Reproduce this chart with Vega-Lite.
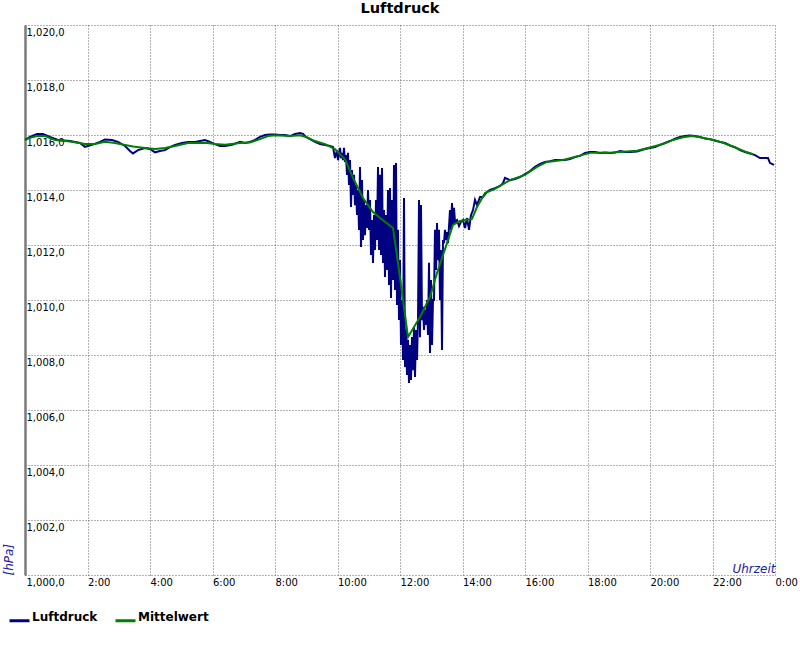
{
  "$schema": "https://vega.github.io/schema/vega-lite/v6.json",
  "autosize": "none",
  "width": 750,
  "height": 550,
  "padding": {"left": 25, "top": 25, "right": 25, "bottom": 75},
  "background": "white",
  "title": {"text": "Luftdruck", "font": "DejaVu Sans", "fontSize": 14.5, "fontWeight": "bold", "color": "black", "anchor": "middle", "baseline": "alphabetic", "offset": -2.5},
  "config": {
    "view": {"stroke": null},
    "legend": {"orient": "none", "legendX": -17, "legendY": 584, "direction": "horizontal", "padding": 0, "symbolType": "stroke", "symbolSize": 400, "symbolStrokeWidth": 3, "labelFont": "DejaVu Sans", "labelFontSize": 12, "labelFontWeight": "bold", "labelColor": "black", "labelOffset": 1, "labelBaseline": "alphabetic", "columnPadding": 11}
  },
  "datasets": {
    "luft": [
      {"t":0,"p":1015.82},{"t":0.16,"p":1015.93},{"t":0.384,"p":1016.04},{"t":0.576,"p":1016.04},{"t":0.8,"p":1015.93},{"t":1.056,"p":1015.82},{"t":1.44,"p":1015.78},{"t":1.76,"p":1015.71},{"t":1.92,"p":1015.57},{"t":2.144,"p":1015.64},{"t":2.4,"p":1015.75},{"t":2.56,"p":1015.84},{"t":2.784,"p":1015.82},{"t":2.976,"p":1015.75},{"t":3.2,"p":1015.60},{"t":3.36,"p":1015.42},{"t":3.456,"p":1015.33},{"t":3.616,"p":1015.45},{"t":3.84,"p":1015.53},{"t":4.0,"p":1015.49},{"t":4.16,"p":1015.37},{"t":4.32,"p":1015.42},{"t":4.48,"p":1015.45},{"t":4.64,"p":1015.56},{"t":4.8,"p":1015.64},{"t":5.024,"p":1015.71},{"t":5.216,"p":1015.75},{"t":5.44,"p":1015.75},{"t":5.76,"p":1015.82},{"t":5.92,"p":1015.75},{"t":6.08,"p":1015.67},{"t":6.24,"p":1015.60},{"t":6.4,"p":1015.60},{"t":6.624,"p":1015.64},{"t":6.88,"p":1015.75},{"t":7.04,"p":1015.71},{"t":7.2,"p":1015.75},{"t":7.36,"p":1015.82},{"t":7.52,"p":1015.93},{"t":7.68,"p":1016.00},{"t":7.84,"p":1016.02},{"t":8.0,"p":1016.02},{"t":8.16,"p":1016.00},{"t":8.32,"p":1016.00},{"t":8.48,"p":1015.96},{"t":8.64,"p":1016.04},{"t":8.8,"p":1016.07},{"t":8.896,"p":1016.04},{"t":8.992,"p":1015.93},{"t":9.12,"p":1015.85},{"t":9.28,"p":1015.75},{"t":9.44,"p":1015.67},{"t":9.6,"p":1015.64},{"t":9.76,"p":1015.60},
      {"t":9.856,"p":1015.56},{"t":9.92,"p":1015.16},{"t":9.984,"p":1015.45},{"t":10.016,"p":1015.09},{"t":10.08,"p":1015.53},{"t":10.112,"p":1015.16},{"t":10.144,"p":1015.35},{"t":10.176,"p":1015.09},{"t":10.208,"p":1015.53},{"t":10.24,"p":1015.02},{"t":10.272,"p":1015.27},{"t":10.304,"p":1014.55},{"t":10.336,"p":1015.35},{"t":10.368,"p":1014.18},{"t":10.4,"p":1015.09},{"t":10.432,"p":1013.38},{"t":10.464,"p":1014.73},{"t":10.496,"p":1013.82},{"t":10.528,"p":1014.55},{"t":10.56,"p":1013.45},{"t":10.592,"p":1014.18},{"t":10.624,"p":1013.09},{"t":10.656,"p":1014.00},{"t":10.688,"p":1012.55},{"t":10.72,"p":1014.84},{"t":10.752,"p":1011.93},{"t":10.784,"p":1014.36},{"t":10.816,"p":1012.18},{"t":10.848,"p":1013.64},{"t":10.88,"p":1012.36},{"t":10.912,"p":1013.45},{"t":10.944,"p":1012.62},{"t":10.976,"p":1014.00},{"t":11.008,"p":1012.55},{"t":11.04,"p":1013.64},{"t":11.072,"p":1011.64},{"t":11.104,"p":1012.91},{"t":11.136,"p":1011.35},{"t":11.168,"p":1013.09},{"t":11.2,"p":1011.82},{"t":11.232,"p":1013.64},{"t":11.264,"p":1012.18},{"t":11.296,"p":1014.84},{"t":11.328,"p":1011.82},{"t":11.36,"p":1014.55},{"t":11.392,"p":1011.64},{"t":11.424,"p":1014.80},{"t":11.456,"p":1011.35},{"t":11.488,"p":1013.27},{"t":11.52,"p":1010.84},{"t":11.552,"p":1013.09},{"t":11.584,"p":1011.09},{"t":11.616,"p":1014.00},{"t":11.648,"p":1010.55},{"t":11.68,"p":1014.07},{"t":11.712,"p":1010.07},{"t":11.744,"p":1013.64},{"t":11.776,"p":1010.73},{"t":11.808,"p":1014.91},{"t":11.84,"p":1010.36},{"t":11.872,"p":1014.98},{"t":11.904,"p":1009.82},{"t":11.936,"p":1012.55},{"t":11.968,"p":1009.27},{"t":12.0,"p":1011.45},{"t":12.032,"p":1008.36},{"t":12.064,"p":1010.00},{"t":12.096,"p":1007.82},{"t":12.128,"p":1013.71},{"t":12.16,"p":1007.56},{"t":12.192,"p":1008.91},{"t":12.224,"p":1007.27},{"t":12.256,"p":1008.55},{"t":12.288,"p":1006.98},{"t":12.32,"p":1008.36},{"t":12.352,"p":1007.09},{"t":12.384,"p":1008.65},{"t":12.416,"p":1007.45},{"t":12.448,"p":1009.02},{"t":12.48,"p":1007.20},{"t":12.512,"p":1008.91},{"t":12.544,"p":1007.82},{"t":12.576,"p":1009.27},{"t":12.608,"p":1013.64},{"t":12.64,"p":1008.65},{"t":12.672,"p":1013.45},{"t":12.704,"p":1009.27},{"t":12.736,"p":1009.75},{"t":12.768,"p":1008.91},{"t":12.8,"p":1009.64},{"t":12.832,"p":1009.09},{"t":12.864,"p":1010.00},{"t":12.896,"p":1008.73},{"t":12.928,"p":1011.35},{"t":12.96,"p":1008.07},{"t":12.992,"p":1010.73},{"t":13.024,"p":1008.36},{"t":13.056,"p":1010.00},{"t":13.088,"p":1010.00},{"t":13.12,"p":1012.55},{"t":13.152,"p":1011.09},{"t":13.184,"p":1012.80},{"t":13.216,"p":1011.45},{"t":13.248,"p":1012.55},{"t":13.28,"p":1010.00},{"t":13.312,"p":1011.82},{"t":13.344,"p":1008.18},{"t":13.376,"p":1012.18},{"t":13.408,"p":1012.07},{"t":13.44,"p":1012.55},{"t":13.472,"p":1012.18},{"t":13.504,"p":1012.47},{"t":13.536,"p":1012.07},{"t":13.6,"p":1013.27},{"t":13.632,"p":1012.55},{"t":13.664,"p":1013.53},{"t":13.696,"p":1012.73},{"t":13.728,"p":1013.35},{"t":13.76,"p":1012.84},{"t":13.824,"p":1012.91},{"t":13.888,"p":1012.69},{"t":13.952,"p":1012.84},{"t":14.016,"p":1012.91},{"t":14.08,"p":1012.62},{"t":14.144,"p":1012.98},{"t":14.208,"p":1012.55},{"t":14.272,"p":1013.09},{"t":14.336,"p":1013.27},{"t":14.4,"p":1013.64},{"t":14.464,"p":1013.45},{"t":14.56,"p":1013.75},{"t":14.656,"p":1013.75},{"t":14.784,"p":1013.93},{"t":14.88,"p":1014.00},{"t":15.04,"p":1014.07},{"t":15.2,"p":1014.15},{"t":15.296,"p":1014.25},{"t":15.36,"p":1014.44},{"t":15.52,"p":1014.36},{"t":15.68,"p":1014.40},{"t":15.84,"p":1014.47},{"t":16.0,"p":1014.58},{"t":16.16,"p":1014.69},{"t":16.32,"p":1014.84},{"t":16.48,"p":1014.95},{"t":16.64,"p":1015.02},{"t":16.8,"p":1015.05},{"t":16.96,"p":1015.09},{"t":17.12,"p":1015.09},{"t":17.28,"p":1015.09},{"t":17.44,"p":1015.13},{"t":17.6,"p":1015.20},{"t":17.76,"p":1015.24},{"t":17.92,"p":1015.35},{"t":18.08,"p":1015.38},{"t":18.24,"p":1015.38},{"t":18.4,"p":1015.35},{"t":18.56,"p":1015.36},{"t":18.72,"p":1015.35},{"t":18.88,"p":1015.36},{"t":19.04,"p":1015.42},{"t":19.2,"p":1015.38},{"t":19.36,"p":1015.38},{"t":19.584,"p":1015.40},{"t":19.84,"p":1015.49},{"t":20.0,"p":1015.53},{"t":20.16,"p":1015.56},{"t":20.32,"p":1015.64},{"t":20.48,"p":1015.71},{"t":20.64,"p":1015.78},{"t":20.8,"p":1015.87},{"t":20.96,"p":1015.93},{"t":21.12,"p":1015.96},{"t":21.28,"p":1015.98},{"t":21.44,"p":1015.96},{"t":21.6,"p":1015.93},{"t":21.76,"p":1015.87},{"t":21.92,"p":1015.85},{"t":22.08,"p":1015.80},{"t":22.24,"p":1015.75},{"t":22.4,"p":1015.71},{"t":22.56,"p":1015.62},{"t":22.72,"p":1015.56},{"t":22.88,"p":1015.45},{"t":23.04,"p":1015.38},{"t":23.2,"p":1015.33},{"t":23.36,"p":1015.27},{"t":23.52,"p":1015.16},{"t":23.68,"p":1015.16},{"t":23.776,"p":1015.16},{"t":23.84,"p":1014.98},{"t":23.904,"p":1014.95},{"t":23.968,"p":1014.91}
    ],
    "mittel": [
      {"t":0,"p":1015.85},{"t":0.384,"p":1015.96},{"t":0.64,"p":1015.96},{"t":0.96,"p":1015.82},{"t":1.44,"p":1015.76},{"t":1.92,"p":1015.67},{"t":2.24,"p":1015.67},{"t":2.56,"p":1015.75},{"t":2.88,"p":1015.71},{"t":3.2,"p":1015.64},{"t":3.456,"p":1015.58},{"t":3.84,"p":1015.53},{"t":4.16,"p":1015.49},{"t":4.48,"p":1015.53},{"t":4.8,"p":1015.60},{"t":5.216,"p":1015.71},{"t":5.76,"p":1015.72},{"t":6.08,"p":1015.67},{"t":6.4,"p":1015.65},{"t":6.88,"p":1015.71},{"t":7.2,"p":1015.73},{"t":7.52,"p":1015.85},{"t":7.776,"p":1015.96},{"t":8.0,"p":1015.99},{"t":8.48,"p":1015.96},{"t":8.8,"p":1015.99},{"t":8.992,"p":1015.93},{"t":9.28,"p":1015.78},{"t":9.6,"p":1015.67},{"t":9.92,"p":1015.49},{"t":10.24,"p":1015.12},{"t":10.496,"p":1014.44},{"t":10.816,"p":1013.71},{"t":11.136,"p":1013.20},{"t":11.36,"p":1012.98},{"t":11.776,"p":1012.62},{"t":11.936,"p":1011.35},{"t":12.096,"p":1010.00},{"t":12.256,"p":1008.65},{"t":12.64,"p":1009.38},{"t":12.96,"p":1010.11},{"t":13.184,"p":1010.98},{"t":13.504,"p":1012.07},{"t":13.696,"p":1012.73},{"t":13.92,"p":1012.87},{"t":14.304,"p":1012.95},{"t":14.464,"p":1013.38},{"t":14.72,"p":1013.89},{"t":15.04,"p":1014.04},{"t":15.52,"p":1014.36},{"t":16.0,"p":1014.55},{"t":16.384,"p":1014.84},{"t":16.704,"p":1015.02},{"t":17.216,"p":1015.09},{"t":17.76,"p":1015.25},{"t":18.08,"p":1015.35},{"t":18.816,"p":1015.36},{"t":19.584,"p":1015.43},{"t":19.904,"p":1015.52},{"t":20.416,"p":1015.67},{"t":20.736,"p":1015.82},{"t":21.056,"p":1015.92},{"t":21.344,"p":1015.96},{"t":21.6,"p":1015.92},{"t":22.016,"p":1015.82},{"t":22.336,"p":1015.72},{"t":22.784,"p":1015.52},{"t":23.104,"p":1015.37},{"t":23.296,"p":1015.30}
    ]
  },
  "encoding": {
    "x": {
      "field": "t", "type": "quantitative",
      "scale": {"domain": [0, 24], "nice": false, "zero": false},
      "axis": {
        "values": [0, 2, 4, 6, 8, 10, 12, 14, 16, 18, 20, 22, 24],
        "labelExpr": "datum.value == 0 ? '' : (datum.value % 24) + ':00'",
        "labelAlign": "left", "labelBaseline": "top", "labelPadding": 2,
        "ticks": false, "tickSize": 0, "domain": false,
        "grid": true, "gridColor": "#666666", "gridDash": [1, 2], "gridWidth": 1, "gridOpacity": 1,
        "labelFlush": false, "labelOverlap": false, "labelBound": false,
        "labelFont": "DejaVu Sans", "labelFontSize": 10, "labelColor": "black",
        "title": "Uhrzeit", "titleFont": "DejaVu Sans", "titleFontSize": 12, "titleFontStyle": "italic", "titleFontWeight": "normal",
        "titleColor": "#2020a0", "titleAnchor": null, "titleAlign": "right", "titleBaseline": "alphabetic", "titleX": 750, "titleY": -3
      }
    },
    "y": {
      "field": "p", "type": "quantitative",
      "scale": {"domain": [1000, 1020], "nice": false, "zero": false},
      "axis": {
        "values": [1000, 1002, 1004, 1006, 1008, 1010, 1012, 1014, 1016, 1018, 1020],
        "labelExpr": "replace(format(datum.value, ',.1f'), '.', ',')",
        "labelAlign": "left", "labelBaseline": "top", "labelPadding": -1, "labelOffset": 2,
        "ticks": false, "tickSize": 0,
        "domain": true, "domainColor": "#7a7a7a", "domainWidth": 2.5,
        "grid": true, "gridColor": "#666666", "gridDash": [1, 2], "gridWidth": 1, "gridOpacity": 1,
        "labelFlush": false, "labelOverlap": false, "labelBound": false,
        "labelFont": "DejaVu Sans", "labelFontSize": 10, "labelColor": "black",
        "title": "[hPa]", "titleFont": "DejaVu Sans", "titleFontSize": 12, "titleFontStyle": "italic", "titleFontWeight": "normal",
        "titleColor": "#2020a0", "titleAnchor": null, "titleAngle": -90, "titleAlign": "left", "titleBaseline": "middle", "titleX": -17, "titleY": 550
      }
    },
    "color": {
      "scale": {"domain": ["Luftdruck", "Mittelwert"], "range": ["#000080", "#008000"]},
      "legend": {"title": null}
    }
  },
  "layer": [
    {
      "data": {"name": "luft"},
      "mark": {"type": "line", "strokeWidth": 2, "interpolate": "linear"},
      "encoding": {"color": {"datum": "Luftdruck", "type": "nominal"}}
    },
    {
      "data": {"name": "mittel"},
      "mark": {"type": "line", "strokeWidth": 2, "interpolate": "linear"},
      "encoding": {"color": {"datum": "Mittelwert", "type": "nominal"}}
    }
  ]
}
